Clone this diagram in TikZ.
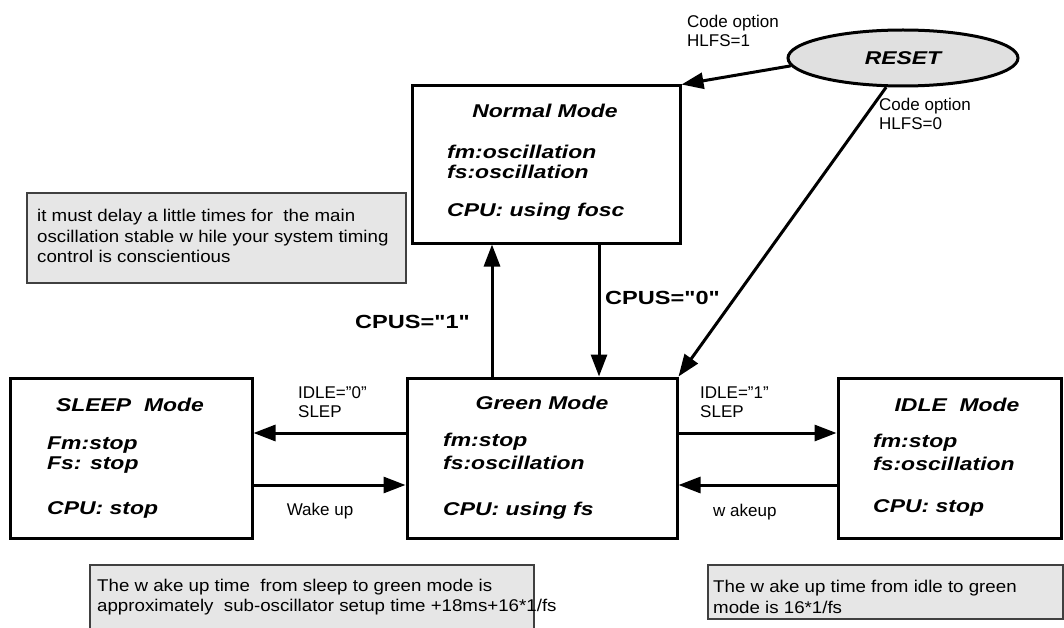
\documentclass[tikz,border=0pt]{standalone}
\usepackage{fontspec}
\setmainfont{Liberation Sans}
\newfontfamily\modefont[FakeStretch=1.24]{Liberation Sans}
\newfontfamily\notefont[FakeStretch=1.1]{Liberation Sans}
\usetikzlibrary{arrows.meta,shapes.geometric}
\definecolor{notegray}{HTML}{E6E6E6}
\definecolor{resetgray}{HTML}{E0E0E0}

\tikzset{
 modebox/.style={draw,line width=3pt,inner sep=0pt,minimum height=160pt},
 notebox/.style={draw=black!75,line width=1.5pt,fill=notegray,inner sep=0pt},
 modetxt/.style={font=\modefont\fontsize{18.5}{20.5}\selectfont\bfseries\itshape,inner sep=0pt},
 cpustxt/.style={font=\modefont\fontsize{19}{21}\selectfont\bfseries,inner sep=0pt},
 lbl/.style={font=\fontsize{17}{19.5}\selectfont,inner sep=0pt,align=left},
 notetxt/.style={font=\notefont\fontsize{17}{20.5}\selectfont,inner sep=0pt,align=left},
 arr/.style={line width=3pt,-{Triangle[length=22pt,width=16pt]}}
}

\begin{document}
\begin{tikzpicture}[x=1pt,y=-1pt]
\useasboundingbox (0,0) rectangle (1064,628);

% mode boxes
\node[modebox,minimum width=268pt,minimum height=157pt] (normal) at (546,164.5) {};
\node[modebox,minimum width=270pt] (green) at (542,458) {};
\node[modebox,minimum width=242pt] (sleep) at (131,458) {};
\node[modebox,minimum width=223pt] (idle) at (949.5,458) {};
\node[ellipse,draw,line width=3pt,fill=resetgray,minimum width=230pt,minimum height=56pt,
 modetxt] (reset) at (903,58) {RESET};

% notes
\node[notebox,minimum width=379pt,minimum height=90pt] (delaynote) at (216.5,238) {};
\node[notetxt,anchor=west] at (37,236) {it must delay a little times for\ \ the main\\
 oscillation stable w hile your system timing\\control is conscientious};
\node[notebox,minimum width=444pt,minimum height=80pt] (sleepnote) at (312,605) {};
\node[notetxt,anchor=west] at (97,597) {The w ake up time\ \ from sleep to green mode is\\
 approximately\ \ sub-oscillator setup time +18ms+16*1/fs};
\node[notebox,minimum width=355pt,minimum height=54pt] (idlenote) at (885.5,592) {};
\node[notetxt,anchor=west] at (713,597) {The w ake up time from idle to green\\mode is 16*1/fs};

% box texts
\node[modetxt] at (545,111) {Normal Mode};
\node[modetxt,anchor=west] at (447,152) {fm:oscillation};
\node[modetxt,anchor=west] at (447,172) {fs:oscillation};
\node[modetxt,anchor=west] at (447,212) {CPU: using fosc};

\node[modetxt] at (542,403) {Green Mode};
\node[modetxt,anchor=west] at (443,442) {fm:stop};
\node[modetxt,anchor=west] at (443,463) {fs:oscillation};
\node[modetxt,anchor=west] at (443,511) {CPU: using fs};

\node[modetxt] at (130,405) {SLEEP~~Mode};
\node[modetxt,anchor=west] at (47,445) {Fm:stop};
\node[modetxt,anchor=west] at (47,465) {Fs: stop};
\node[modetxt,anchor=west] at (47,510) {CPU: stop};

\node[modetxt] at (957,405) {IDLE~~Mode};
\node[modetxt,anchor=west] at (873,443) {fm:stop};
\node[modetxt,anchor=west] at (873,464) {fs:oscillation};
\node[modetxt,anchor=west] at (873,508) {CPU: stop};

% transitions
\coordinate (cpus0) at ([xshift=53pt]normal.south);
\coordinate (cpus1) at ([xshift=-50pt]green.north);
\coordinate (gslp) at ([yshift=25pt]green.west);
\coordinate (swk) at ([yshift=-27pt]sleep.east);
\coordinate (gidl) at ([yshift=25pt]green.east);
\coordinate (iwk) at ([yshift=-27pt]idle.west);

\draw 
[arr] 
(reset.184) -- (normal.north east);
\draw 
[arr] 
(reset.240) -- (green.north east);
\draw [arr] (cpus0) -- (cpus0 |- green.north);
\draw [arr] (cpus1) -- (cpus1 |- normal.south);
\draw [arr] (gslp) -- (gslp -| sleep.east);
\draw [arr] (swk) -- (swk -| green.west);
\draw [arr] (gidl) -- (gidl -| idle.west);
\draw [arr] (iwk) -- (iwk -| green.east);

% labels
\node[lbl,anchor=west] (hlfs1) at (687,31) {Code option\\HLFS=1};
\node[lbl,anchor=west] (hlfs0) at (879,114) {Code option\\HLFS=0};
\node[cpustxt,anchor=west] at (605,298) {CPUS="0"};
\node[cpustxt,anchor=east] at (470,322) {CPUS="1"};
\node[lbl,anchor=west] at (298,402) {IDLE="0"\\SLEP};
\node[lbl,anchor=west] at (700,402) {IDLE="1"\\SLEP};
\node[lbl] at (320,511) {Wake up};
\node[lbl,anchor=west] at (713,512) {w akeup};

\end{tikzpicture}
\end{document}
